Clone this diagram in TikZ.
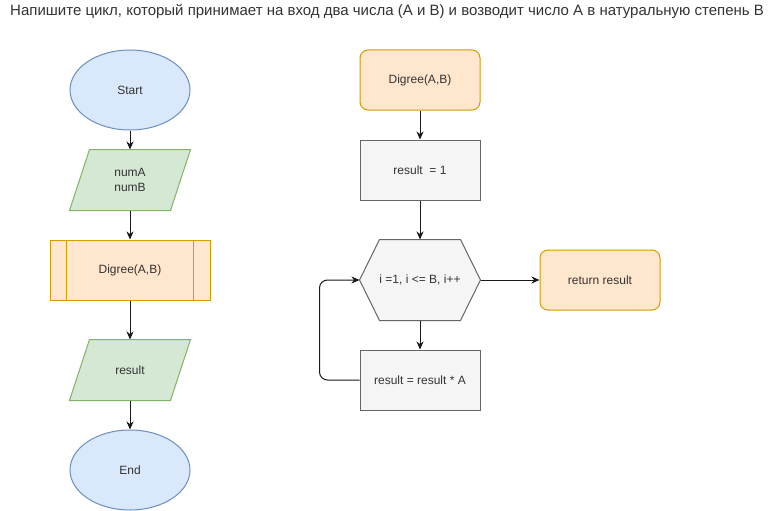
\documentclass[tikz,border=0pt]{standalone}
\usepackage{fontspec}
\setmainfont{Liberation Sans}
\usetikzlibrary{arrows.meta,shapes.geometric,backgrounds}
\definecolor{blueF}{HTML}{DAE8FC}
\definecolor{blueS}{HTML}{6C8EBF}
\definecolor{greenF}{HTML}{D5E8D4}
\definecolor{greenS}{HTML}{82B366}
\definecolor{orangeF}{HTML}{FFE6CC}
\definecolor{orangeS}{HTML}{D79B00}
\definecolor{grayF}{HTML}{F5F5F5}
\definecolor{grayS}{HTML}{666666}
\definecolor{txt}{HTML}{333333}
\tikzset{
  base/.style={font=\fontsize{12}{14.5}\selectfont, text=txt, line width=1pt, align=center, inner sep=0pt},
  term/.style={base, ellipse, draw=blueS, fill=blueF, minimum width=120pt, minimum height=80pt},
  iobox/.style={base, rectangle, minimum width=120pt, minimum height=60pt},
  subbox/.style={base, rectangle, draw=orangeS, fill=orangeF, minimum width=160pt, minimum height=60pt},
  roundbox/.style={base, rectangle, rounded corners=8pt, draw=orangeS, fill=orangeF, minimum width=120pt, minimum height=60pt},
  procbox/.style={base, rectangle, draw=grayS, fill=grayF, minimum width=120pt, minimum height=60pt},
  hexbox/.style={base, rectangle, minimum width=120pt, minimum height=80pt},
  arr/.style={line width=1pt, draw=black!90, -{Stealth[length=8pt,width=7pt,inset=2.5pt]}},
  paral/.style={line width=1pt, draw=greenS, fill=greenF},
  hexag/.style={line width=1pt, draw=grayS, fill=grayF},
}
\begin{document}
\begin{tikzpicture}[x=1pt,y=-1pt]
\useasboundingbox (0,0) rectangle (771,511);
\node[anchor=base west, font=\fontsize{15}{17}\selectfont, text=txt, inner sep=0pt] (title) at (10,16)
  {Напишите цикл, который принимает на вход два числа (А и В) и возводит число А в натуральную степень В};
% left column
\node[term] (start) at (130,90) {Start};
\node[iobox] (in) at (130,180) {numA\\numB};
\node[subbox] (dg) at (130,270) {Digree(A,B)};
\node[iobox] (res) at (130,370) {result};
\node[term] (end) at (130,470) {End};
\draw[line width=1pt, draw=orangeS] ([xshift=16.7pt]dg.north west) -- ([xshift=16.7pt]dg.south west);
\draw[line width=1pt, draw=orangeS] ([xshift=-16.7pt]dg.north east) -- ([xshift=-16.7pt]dg.south east);
% right column
\node[roundbox] (fn) at (420,80) {Digree(A,B)};
\node[procbox] (init) at (420,170) {result\ \ = 1};
\node[hexbox] (loop) at (420,280) {i =1, i <= B, i++};
\node[roundbox] (ret) at (600,280) {return result};
\node[procbox] (body) at (420,380) {result = result * A};
\begin{scope}[on background layer]
\fill[white] (0,0) rectangle (771,511);
\path[paral] ([xshift=20pt]in.north west) -- (in.north east) -- ([xshift=-20pt]in.south east) -- (in.south west) -- cycle;
\path[paral] ([xshift=20pt]res.north west) -- (res.north east) -- ([xshift=-20pt]res.south east) -- (res.south west) -- cycle;
\path[hexag] (loop.west) -- ([xshift=20pt]loop.north west) -- ([xshift=-20pt]loop.north east) -- (loop.east) -- ([xshift=-20pt]loop.south east) -- ([xshift=20pt]loop.south west) -- cycle;
\end{scope}
% connectors
\draw[arr] (start.south) -- (in.north);
\draw[arr] (in.south) -- (dg.north);
\draw[arr] (dg.south) -- (res.north);
\draw[arr] (res.south) -- (end.north);
\draw[arr] (fn.south) -- (init.north);
\draw[arr] (init.south) -- (loop.north);
\draw[arr] (loop.east) -- (ret.west);
\draw[arr] (loop.south) -- (body.north);
\draw[arr, rounded corners=8pt] (body.west) -- ++(-40,0) |- (loop.west);
\end{tikzpicture}
\end{document}
